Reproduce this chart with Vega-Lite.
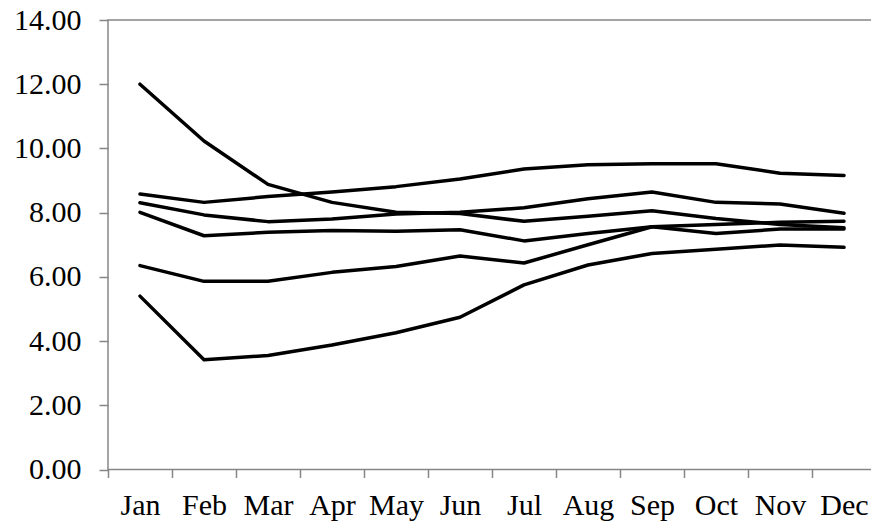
{
  "$schema": "https://vega.github.io/schema/vega-lite/v6.json",
  "description": "Six monthly series, Jan to Dec",
  "autosize": "none",
  "width": 764,
  "height": 449.5,
  "padding": {"left": 108, "top": 20, "right": 0, "bottom": 60},
  "background": "white",
  "config": {
    "view": {"stroke": "#868686", "strokeWidth": 1.5},
    "axis": {
      "labelFont": "Liberation Serif",
      "labelFontSize": 30,
      "labelColor": "black",
      "tickColor": "#868686",
      "tickWidth": 1.5,
      "domain": false,
      "grid": false
    }
  },
  "data": {
    "values": [
      {"month": "Jan", "series": "A", "value": 12.0},
      {"month": "Feb", "series": "A", "value": 10.23},
      {"month": "Mar", "series": "A", "value": 8.88},
      {"month": "Apr", "series": "A", "value": 8.32},
      {"month": "May", "series": "A", "value": 8.01},
      {"month": "Jun", "series": "A", "value": 7.97},
      {"month": "Jul", "series": "A", "value": 7.73},
      {"month": "Aug", "series": "A", "value": 7.89},
      {"month": "Sep", "series": "A", "value": 8.06},
      {"month": "Oct", "series": "A", "value": 7.82},
      {"month": "Nov", "series": "A", "value": 7.63},
      {"month": "Dec", "series": "A", "value": 7.53},

      {"month": "Jan", "series": "B", "value": 8.58},
      {"month": "Feb", "series": "B", "value": 8.32},
      {"month": "Mar", "series": "B", "value": 8.5},
      {"month": "Apr", "series": "B", "value": 8.64},
      {"month": "May", "series": "B", "value": 8.81},
      {"month": "Jun", "series": "B", "value": 9.05},
      {"month": "Jul", "series": "B", "value": 9.36},
      {"month": "Aug", "series": "B", "value": 9.49},
      {"month": "Sep", "series": "B", "value": 9.52},
      {"month": "Oct", "series": "B", "value": 9.52},
      {"month": "Nov", "series": "B", "value": 9.23},
      {"month": "Dec", "series": "B", "value": 9.16},

      {"month": "Jan", "series": "C", "value": 8.31},
      {"month": "Feb", "series": "C", "value": 7.93},
      {"month": "Mar", "series": "C", "value": 7.72},
      {"month": "Apr", "series": "C", "value": 7.8},
      {"month": "May", "series": "C", "value": 7.96},
      {"month": "Jun", "series": "C", "value": 8.01},
      {"month": "Jul", "series": "C", "value": 8.15},
      {"month": "Aug", "series": "C", "value": 8.43},
      {"month": "Sep", "series": "C", "value": 8.64},
      {"month": "Oct", "series": "C", "value": 8.32},
      {"month": "Nov", "series": "C", "value": 8.27},
      {"month": "Dec", "series": "C", "value": 7.98},

      {"month": "Jan", "series": "D", "value": 8.01},
      {"month": "Feb", "series": "D", "value": 7.28},
      {"month": "Mar", "series": "D", "value": 7.39},
      {"month": "Apr", "series": "D", "value": 7.44},
      {"month": "May", "series": "D", "value": 7.42},
      {"month": "Jun", "series": "D", "value": 7.47},
      {"month": "Jul", "series": "D", "value": 7.12},
      {"month": "Aug", "series": "D", "value": 7.35},
      {"month": "Sep", "series": "D", "value": 7.56},
      {"month": "Oct", "series": "D", "value": 7.35},
      {"month": "Nov", "series": "D", "value": 7.49},
      {"month": "Dec", "series": "D", "value": 7.49},

      {"month": "Jan", "series": "E", "value": 6.35},
      {"month": "Feb", "series": "E", "value": 5.86},
      {"month": "Mar", "series": "E", "value": 5.86},
      {"month": "Apr", "series": "E", "value": 6.14},
      {"month": "May", "series": "E", "value": 6.32},
      {"month": "Jun", "series": "E", "value": 6.65},
      {"month": "Jul", "series": "E", "value": 6.43},
      {"month": "Aug", "series": "E", "value": 7.0},
      {"month": "Sep", "series": "E", "value": 7.56},
      {"month": "Oct", "series": "E", "value": 7.63},
      {"month": "Nov", "series": "E", "value": 7.7},
      {"month": "Dec", "series": "E", "value": 7.73},

      {"month": "Jan", "series": "F", "value": 5.4},
      {"month": "Feb", "series": "F", "value": 3.42},
      {"month": "Mar", "series": "F", "value": 3.55},
      {"month": "Apr", "series": "F", "value": 3.88},
      {"month": "May", "series": "F", "value": 4.26},
      {"month": "Jun", "series": "F", "value": 4.74},
      {"month": "Jul", "series": "F", "value": 5.75},
      {"month": "Aug", "series": "F", "value": 6.37},
      {"month": "Sep", "series": "F", "value": 6.73},
      {"month": "Oct", "series": "F", "value": 6.86},
      {"month": "Nov", "series": "F", "value": 6.99},
      {"month": "Dec", "series": "F", "value": 6.92}
    ]
  },
  "mark": {
    "type": "line",
    "color": "black",
    "strokeWidth": 3.5,
    "strokeCap": "round",
    "strokeJoin": "round"
  },
  "encoding": {
    "x": {
      "field": "month",
      "type": "ordinal",
      "sort": null,
      "title": null,
      "scale": {"type": "point", "padding": 0, "range": [32, 736]},
      "axis": {
        "labelAngle": 0,
        "tickSize": 8,
        "tickOffset": -32,
        "labelOffset": 32,
        "labelPadding": 13
      }
    },
    "y": {
      "field": "value",
      "type": "quantitative",
      "title": null,
      "scale": {"domain": [0, 14], "nice": false},
      "axis": {
        "values": [0, 2, 4, 6, 8, 10, 12, 14],
        "format": ".2f",
        "tickSize": 9,
        "labelPadding": 18
      }
    },
    "detail": {"field": "series", "type": "nominal"}
  }
}
